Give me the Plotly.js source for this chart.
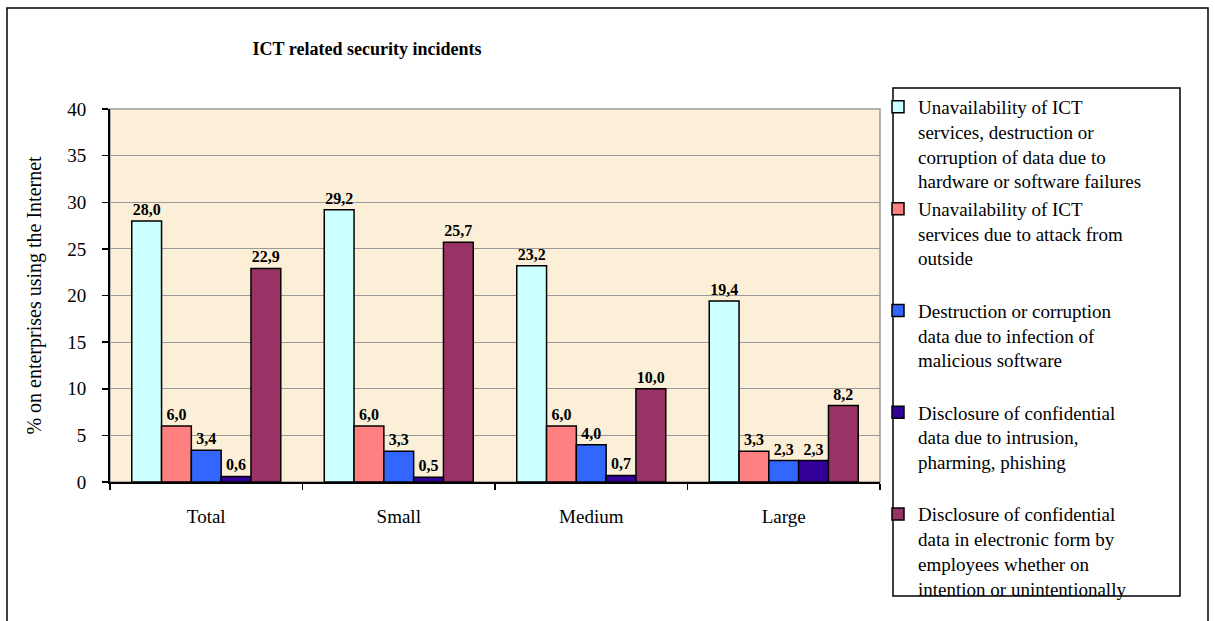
<!DOCTYPE html>
<html>
<head>
<meta charset="utf-8">
<script src="https://cdn.plot.ly/plotly-3.0.1.min.js"></script>
<style>
html,body{margin:0;padding:0;background:#fff;}
#chart{width:1215px;height:621px;}
</style>
</head>
<body>
<div id="chart"></div>
<script>
const categories = ['Total', 'Small', 'Medium', 'Large'];
const seriesNames = [
  'Unavailability of ICT<br>services, destruction or<br>corruption of data due to<br>hardware or software failures',
  'Unavailability of ICT<br>services due to attack from<br>outside<br> ',
  'Destruction or corruption<br>data due to infection of<br>malicious software<br> ',
  'Disclosure of confidential<br>data due to intrusion,<br>pharming, phishing<br> ',
  'Disclosure of confidential<br>data in electronic form by<br>employees whether on<br>intention or unintentionally'
];
const hwFailures = [28.0, 29.2, 23.2, 19.4];
const outsideAttack = [6.0, 6.0, 6.0, 3.3];
const malware = [3.4, 3.3, 4.0, 2.3];
const intrusion = [0.6, 0.5, 0.7, 2.3];
const employees = [22.9, 25.7, 10.0, 8.2];
const seriesValues = [hwFailures, outsideAttack, malware, intrusion, employees];
const seriesColors = ['#CCFFFF', '#FF8080', '#3366FF', '#330099', '#993366'];
const yTicks = [0, 5, 10, 15, 20, 25, 30, 35, 40];

const FONT = '"Liberation Serif", "Times New Roman", serif';

const traces = seriesValues.map((vals, i) => ({
  type: 'bar',
  name: seriesNames[i],
  x: categories,
  y: vals,
  marker: {color: seriesColors[i], line: {color: '#000', width: 1.5}},
  texttemplate: '%{y:.1f}',
  textposition: 'outside',
  constraintext: 'none',
  cliponaxis: false,
  textfont: {family: FONT, size: 16, color: '#000', weight: 'bold'},
  hoverinfo: 'x+y+name'
}));

const L = 110, R = 880, T = 109, B = 482;
const W = 1215, H = 621;
const px = v => (v - L) / (R - L);
const py = v => (B - v) / (B - T);

const layout = {
  width: W, height: H,
  margin: {l: L, r: W - R, t: T, b: H - B, pad: 0},
  paper_bgcolor: '#fff',
  plot_bgcolor: '#FBEFD7',
  separators: ',.',
  font: {family: FONT, color: '#000', size: 19},
  title: {
    text: '<b>ICT related security incidents</b>',
    font: {family: FONT, size: 18, color: '#000'},
    x: 367 / W, xanchor: 'center',
    y: 1 - 49 / H, yanchor: 'middle'
  },
  barmode: 'group',
  bargap: 0.226,
  bargroupgap: 0,
  showlegend: true,
  legend: {
    x: px(878), xanchor: 'left',
    y: py(88), yanchor: 'top',
    bgcolor: 'rgba(0,0,0,0)',
    borderwidth: 0,
    valign: 'top',
    maxheight: 600,
    font: {family: FONT, size: 19, color: '#000'},
    tracegroupgap: 0,
    traceorder: 'normal'
  },
  xaxis: {
    type: 'category',
    showline: true, linecolor: '#000', linewidth: 2,
    ticks: 'outside', tickson: 'boundaries', ticklen: 6, tickwidth: 1.5, tickcolor: '#000',
    ticklabelstandoff: 16,
    tickfont: {family: FONT, size: 19, color: '#000'},
    showgrid: false, zeroline: false, fixedrange: true
  },
  yaxis: {
    range: [0, 40],
    tickvals: yTicks,
    ticktext: yTicks.map(String),
    showline: true, linecolor: '#000', linewidth: 2,
    ticks: 'outside', ticklen: 6, tickwidth: 1.5, tickcolor: '#000',
    ticklabelstandoff: 12,
    tickfont: {family: FONT, size: 19, color: '#000'},
    showgrid: true, gridcolor: '#9A9A9A', gridwidth: 1,
    zeroline: false, fixedrange: true,
    title: {
      text: '% on enterprises using the Internet',
      font: {family: FONT, size: 20, color: '#000'},
      standoff: 20
    }
  },
  shapes: [
    {type: 'rect', xref: 'paper', yref: 'paper', x0: 0, x1: 1, y0: 0, y1: 1,
     line: {color: '#9A9A9A', width: 1.5}, layer: 'below'},
    {type: 'rect', xref: 'paper', yref: 'paper',
     x0: px(893), x1: px(1180), y0: py(596), y1: py(88),
     line: {color: '#000', width: 1.5}, fillcolor: 'rgba(0,0,0,0)'},
    {type: 'rect', xref: 'paper', yref: 'paper',
     x0: px(7), x1: px(1208), y0: py(630), y1: py(8),
     line: {color: '#000', width: 1.5}, fillcolor: 'rgba(0,0,0,0)'}
  ]
};

Plotly.newPlot('chart', traces, layout, {displayModeBar: false, staticPlot: true});
</script>
</body>
</html>
